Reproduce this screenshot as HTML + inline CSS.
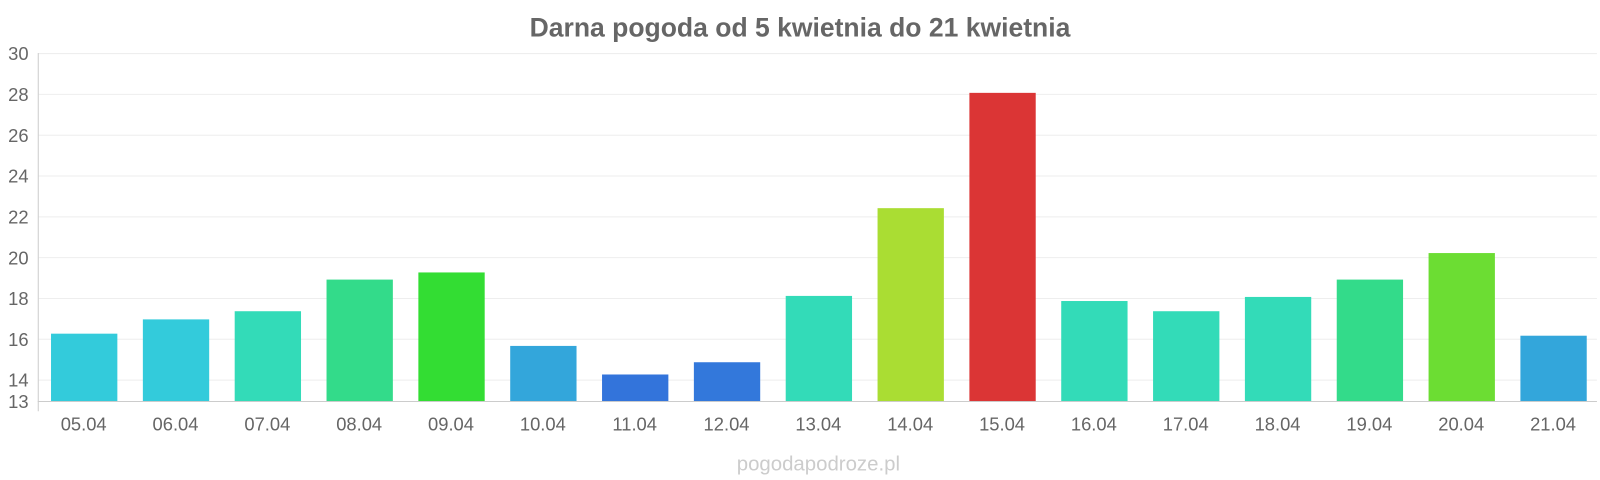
<!DOCTYPE html>
<html><head><meta charset="utf-8"><style>
body{margin:0;background:#fff;width:1600px;height:480px;overflow:hidden;font-family:"Liberation Sans",sans-serif}
svg{display:block}
</style></head><body>
<svg width="1600" height="480" viewBox="0 0 1568 470.4" preserveAspectRatio="none" xmlns="http://www.w3.org/2000/svg" font-family="Liberation Sans, sans-serif">
<text x="784" y="36" text-anchor="middle" font-size="26" font-weight="bold" fill="#666">Darna pogoda od 5 kwietnia do 21 kwietnia</text>
<g stroke="#eee" stroke-width="1">
<line x1="38" x2="1565" y1="52.5" y2="52.5"/><line x1="38" x2="1565" y1="92.5" y2="92.5"/>
<line x1="38" x2="1565" y1="132.5" y2="132.5"/><line x1="38" x2="1565" y1="172.5" y2="172.5"/>
<line x1="38" x2="1565" y1="212.5" y2="212.5"/><line x1="38" x2="1565" y1="252.5" y2="252.5"/>
<line x1="38" x2="1565" y1="292.5" y2="292.5"/><line x1="38" x2="1565" y1="332.5" y2="332.5"/>
<line x1="38" x2="1565" y1="372.5" y2="372.5"/>
</g>
<line x1="37.5" x2="37.5" y1="52" y2="403" stroke="#ccc"/>
<line x1="37" x2="1565" y1="393.5" y2="393.5" stroke="#ccc"/>
<g font-size="18" fill="#666" text-anchor="end">
<text x="28" y="59">30</text><text x="28" y="99">28</text><text x="28" y="139">26</text>
<text x="28" y="179">24</text><text x="28" y="219">22</text><text x="28" y="259">20</text>
<text x="28" y="299">18</text><text x="28" y="339">16</text><text x="28" y="379">14</text>
<text x="28" y="400">13</text>
</g>
<g>
<rect x="50" y="327" width="65" height="66" fill="#33cbdb"/>
<rect x="140" y="313" width="65" height="80" fill="#33cbdb"/>
<rect x="230" y="305" width="65" height="88" fill="#33dbb8"/>
<rect x="320" y="274" width="65" height="119" fill="#33db8a"/>
<rect x="410" y="267" width="65" height="126" fill="#33dd33"/>
<rect x="500" y="339" width="65" height="54" fill="#33a6db"/>
<rect x="590" y="367" width="65" height="26" fill="#3374db"/>
<rect x="680" y="355" width="65" height="38" fill="#3378db"/>
<rect x="770" y="290" width="65" height="103" fill="#33dbb8"/>
<rect x="860" y="204" width="65" height="189" fill="#aadd33"/>
<rect x="950" y="91" width="65" height="302" fill="#db3535"/>
<rect x="1040" y="295" width="65" height="98" fill="#33dbb8"/>
<rect x="1130" y="305" width="65" height="88" fill="#33dbb8"/>
<rect x="1220" y="291" width="65" height="102" fill="#33dbb8"/>
<rect x="1310" y="274" width="65" height="119" fill="#33db8a"/>
<rect x="1400" y="248" width="65" height="145" fill="#6cdd33"/>
<rect x="1490" y="329" width="65" height="64" fill="#33a6db"/>
</g>
<g font-size="18" fill="#666" text-anchor="middle">
<text x="82" y="422">05.04</text><text x="172" y="422">06.04</text><text x="262" y="422">07.04</text>
<text x="352" y="422">08.04</text><text x="442" y="422">09.04</text><text x="532" y="422">10.04</text>
<text x="622" y="422">11.04</text><text x="712" y="422">12.04</text><text x="802" y="422">13.04</text>
<text x="892" y="422">14.04</text><text x="982" y="422">15.04</text><text x="1072" y="422">16.04</text>
<text x="1162" y="422">17.04</text><text x="1252" y="422">18.04</text><text x="1342" y="422">19.04</text>
<text x="1432" y="422">20.04</text><text x="1522" y="422">21.04</text>
</g>
<text x="802" y="461" text-anchor="middle" font-size="20" fill="#ccc">pogodapodroze.pl</text>
</svg>
</body></html>
